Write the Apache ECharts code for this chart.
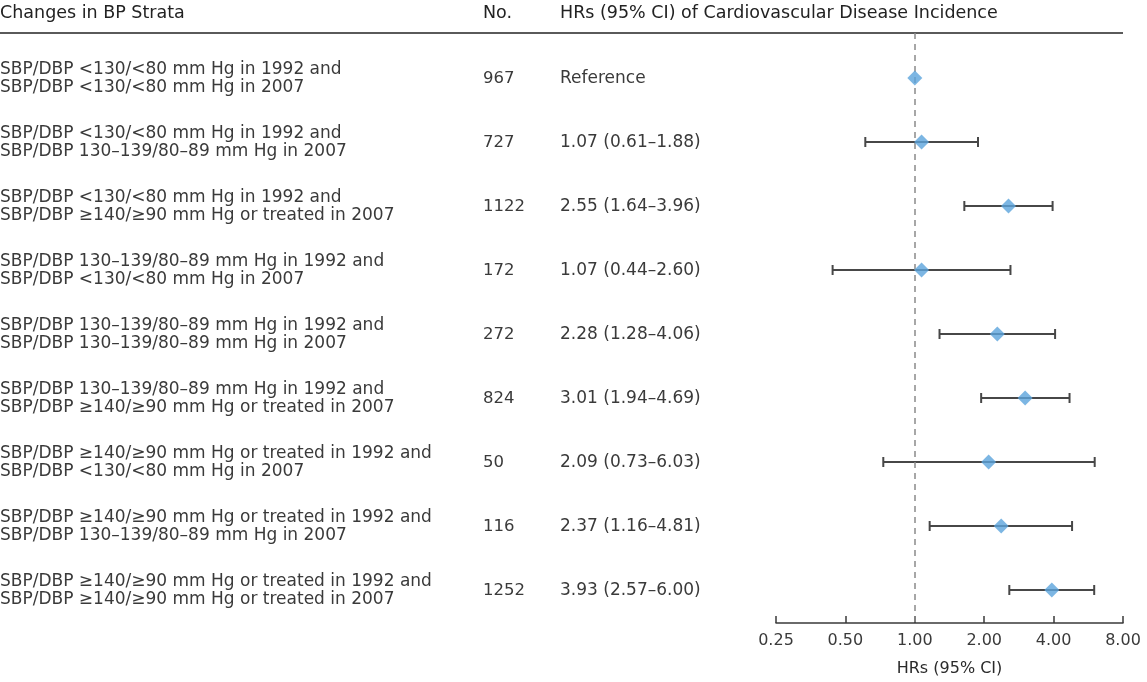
<!DOCTYPE html>
<html>
<head>
<meta charset="utf-8">
<script src="https://cdn.jsdelivr.net/npm/echarts@6/dist/echarts.min.js"></script>
<style>
html,body{margin:0;padding:0;background:#fff;}
#c{width:1147px;height:682px;}
</style>
</head>
<body>
<div id="c"></div>
<script>
// ---- data ----
const strataLine1 = [
  'SBP/DBP <130/<80 mm Hg in 1992 and',
  'SBP/DBP <130/<80 mm Hg in 1992 and',
  'SBP/DBP <130/<80 mm Hg in 1992 and',
  'SBP/DBP 130–139/80–89 mm Hg in 1992 and',
  'SBP/DBP 130–139/80–89 mm Hg in 1992 and',
  'SBP/DBP 130–139/80–89 mm Hg in 1992 and',
  'SBP/DBP ≥140/≥90 mm Hg or treated in 1992 and',
  'SBP/DBP ≥140/≥90 mm Hg or treated in 1992 and',
  'SBP/DBP ≥140/≥90 mm Hg or treated in 1992 and'
];
const strataLine2 = [
  'SBP/DBP <130/<80 mm Hg in 2007',
  'SBP/DBP 130–139/80–89 mm Hg in 2007',
  'SBP/DBP ≥140/≥90 mm Hg or treated in 2007',
  'SBP/DBP <130/<80 mm Hg in 2007',
  'SBP/DBP 130–139/80–89 mm Hg in 2007',
  'SBP/DBP ≥140/≥90 mm Hg or treated in 2007',
  'SBP/DBP <130/<80 mm Hg in 2007',
  'SBP/DBP 130–139/80–89 mm Hg in 2007',
  'SBP/DBP ≥140/≥90 mm Hg or treated in 2007'
];
const counts = [967, 727, 1122, 172, 272, 824, 50, 116, 1252];
const hrLabels = ['Reference', '1.07 (0.61–1.88)', '2.55 (1.64–3.96)', '1.07 (0.44–2.60)',
  '2.28 (1.28–4.06)', '3.01 (1.94–4.69)', '2.09 (0.73–6.03)', '2.37 (1.16–4.81)', '3.93 (2.57–6.00)'];
const hr    = [1.00, 1.07, 2.55, 1.07, 2.28, 3.01, 2.09, 2.37, 3.93];
const lower = [null, 0.61, 1.64, 0.44, 1.28, 1.94, 0.73, 1.16, 2.57];
const upper = [null, 1.88, 3.96, 2.60, 4.06, 4.69, 6.03, 4.81, 6.00];
const headers = ['Changes in BP Strata', 'No.', 'HRs (95% CI) of Cardiovascular Disease Incidence'];
const refValue = 1;
const xMin = 0.25, xMax = 8;
const xTitle = 'HRs (95% CI)';

// ---- chart ----
const FONT = '"DejaVu Sans", "Noto Sans", sans-serif';
const TXT = '#3a3a3a';
const chart = echarts.init(document.getElementById('c'), null, {renderer: 'canvas'});

const ciData = hr.map((v, i) => [lower[i], upper[i], i]).filter(d => d[0] != null);
const pointData = hr.map((v, i) => [v, i]);

chart.setOption({
  animation: false,
  grid: {left: 776, right: 24, top: 33, bottom: 59, containLabel: false},
  xAxis: {
    type: 'log', logBase: 2, min: xMin, max: xMax,
    axisLine: {show: true, onZero: false, lineStyle: {color: '#3a3a3a', width: 1.5}},
    axisTick: {show: true, inside: true, length: 7, lineStyle: {color: '#3a3a3a', width: 1.5}},
    axisLabel: {color: TXT, fontFamily: FONT, fontSize: 16, margin: 10,
      formatter: v => Number(v).toFixed(2)},
    splitLine: {show: false},
    name: xTitle, nameLocation: 'middle', nameGap: 38,
    nameTextStyle: {color: '#2a2a2a', fontFamily: FONT, fontSize: 16}
  },
  yAxis: {
    type: 'value', inverse: true, min: -0.703, max: 8.516, show: false
  },
  series: [
    {
      type: 'line', data: [], silent: true,
      markLine: {
        symbol: 'none', silent: true, label: {show: false},
        lineStyle: {color: '#8a8a8a', type: [6, 5], width: 1.5},
        data: [{xAxis: refValue}]
      }
    },
    {
      type: 'custom', silent: true,
      data: ciData,
      renderItem: function (params, api) {
        const p0 = api.coord([api.value(0), api.value(2)]);
        const p1 = api.coord([api.value(1), api.value(2)]);
        const h = 5;
        const st = {stroke: '#474747', lineWidth: 2};
        return {type: 'group', children: [
          {type: 'line', shape: {x1: p0[0], y1: p0[1], x2: p1[0], y2: p1[1]}, style: st},
          {type: 'line', shape: {x1: p0[0], y1: p0[1] - h, x2: p0[0], y2: p0[1] + h}, style: st},
          {type: 'line', shape: {x1: p1[0], y1: p1[1] - h, x2: p1[0], y2: p1[1] + h}, style: st}
        ]};
      },
      z: 3
    },
    {
      type: 'scatter', data: pointData, symbol: 'diamond', symbolSize: [15, 15],
      itemStyle: {color: '#5ba4dc'}, z: 5, silent: true
    }
  ]
});

// text columns placed through the y scale
const colX = [0, 483, 560];
const g = [];
headers.forEach((h, k) => {
  g.push({type: 'text', x: colX[k], y: 13,
    style: {text: h, fill: '#222', font: '17.5px ' + FONT, verticalAlign: 'middle'}});
});
const lineEnd = chart.convertToPixel({xAxisIndex: 0}, xMax);
g.push({type: 'line', shape: {x1: 0, y1: 33, x2: lineEnd, y2: 33},
  style: {stroke: '#5a5a5a', lineWidth: 2}});
hr.forEach((v, i) => {
  const y = chart.convertToPixel({yAxisIndex: 0}, i) + 1;
  g.push({type: 'text', x: colX[0], y: y,
    style: {text: strataLine1[i] + '\n' + strataLine2[i], fill: TXT,
      font: '17px ' + FONT, lineHeight: 18, verticalAlign: 'middle', align: 'left'}});
  g.push({type: 'text', x: colX[1], y: y,
    style: {text: String(counts[i]), fill: TXT, font: '16.5px ' + FONT, verticalAlign: 'middle'}});
  g.push({type: 'text', x: colX[2], y: y,
    style: {text: hrLabels[i], fill: TXT, font: '17px ' + FONT, verticalAlign: 'middle'}});
});
chart.setOption({graphic: g});
</script>
</body>
</html>
